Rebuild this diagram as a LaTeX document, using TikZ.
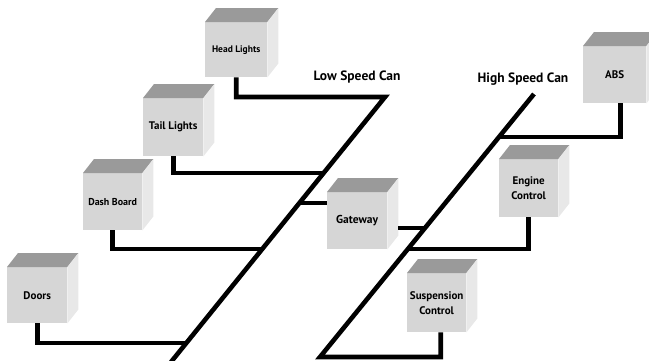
\documentclass[tikz,border=0pt]{standalone}
\usepackage{fontspec}
\setmainfont{PT Sans}
\usetikzlibrary{calc}
\definecolor{frontgray}{HTML}{D6D6D6}
\definecolor{topgray}{HTML}{9A9A9A}
\definecolor{sidegray}{HTML}{E8E8E8}
\newcommand\cubefaces[1]{%
  \fill[topgray] (#1.north west) -- ++(11,-14) -- ([shift={(11,-14)}]#1.north east) -- (#1.north east) -- cycle;
  \fill[sidegray] (#1.north east) -- ([shift={(11,-14)}]#1.north east) -- ([shift={(11,-14)}]#1.south east) -- (#1.south east) -- cycle;}
\begin{document}
\begin{tikzpicture}[x=1pt,y=-1pt,
  front/.style={fill=frontgray, inner sep=0pt, anchor=north west, align=center, font=\bfseries\fontsize{10}{11.5}\selectfont},
  bus/.style={line width=4.6pt, line join=miter, black},
  buslabel/.style={font=\bfseries\fontsize{13.5}{15}\selectfont}]
\useasboundingbox (0,0) rectangle (649,360);
\clip (0,0) rectangle (649,360);
% nodes (front faces)
\node[front, minimum width=62, minimum height=55, font=\bfseries\fontsize{9.5}{11}\selectfont] (hl) at (205,22) {Head Lights};
\node[front, minimum width=60, minimum height=58, font=\bfseries\fontsize{11}{13}\selectfont] (tl) at (143,98) {Tail Lights};
\node[front, minimum width=59, minimum height=57] (db) at (83,173) {Dash Board};
\node[front, minimum width=60, minimum height=56, font=\bfseries\fontsize{11}{13}\selectfont] (dr) at (7,267) {Doors};
\node[front, minimum width=60, minimum height=57, font=\bfseries\fontsize{11.5}{13}\selectfont] (gw) at (327,192) {Gateway};
\node[front, minimum width=59, minimum height=58, font=\bfseries\fontsize{11}{15}\selectfont] (ec) at (499,159) {Engine\\Control};
\node[front, minimum width=59, minimum height=59, font=\bfseries\fontsize{11}{15}\selectfont] (sc) at (407,273) {Suspension\\Control};
\node[front, minimum width=63, minimum height=57, font=\bfseries\fontsize{11}{13}\selectfont] (abs) at (583,46) {\raisebox{-3pt}{ABS}};
\foreach \n in {hl,tl,db,dr,gw,ec,sc,abs} {\cubefaces{\n}}
% bus labels
\node[buslabel] (lowlab) at (357,77) {Low Speed Can};
\node[buslabel] (highlab) at (523,79) {High Speed Can};
% bus end points
\coordinate (lowtop) at (385,97);
\coordinate (lowbot) at (171,362);
\coordinate (hightop) at (534,94);
\coordinate (highbot) at (320,357);
% points on the low speed bus
\coordinate (ltl) at ($(lowtop)!{(173-97)/265}!(lowbot)$);
\coordinate (lgw) at ($(lowtop)!{(203-97)/265}!(lowbot)$);
\coordinate (ldb) at ($(lowtop)!{(249-97)/265}!(lowbot)$);
\coordinate (ldr) at ($(lowtop)!{(343-97)/265}!(lowbot)$);
% points on the high speed bus
\coordinate (habs) at ($(hightop)!{(137-94)/263}!(highbot)$);
\coordinate (hgw) at ($(hightop)!{(228-94)/263}!(highbot)$);
\coordinate (hec) at ($(hightop)!{(249-94)/263}!(highbot)$);
\coordinate (gwr) at ($(gw.north east)+(11,0)$);
% connectors
\draw[bus] (hl.south) |- (lowtop) -- (lowbot);
\draw[bus] (tl.south) |- (ltl);
\draw[bus] (db.south) |- (ldb);
\draw[bus] (dr.south) |- (ldr);
\draw[bus] (lgw) -- (lgw -| gw.west);
\draw[bus] (hightop) -- (highbot) -| ([xshift=4]sc.south);
\draw[bus] ([xshift=6]abs.south) |- (habs);
\draw[bus] (ec.south) |- (hec);
\draw[bus] (hgw -| gwr) -- (hgw);
\end{tikzpicture}
\end{document}
